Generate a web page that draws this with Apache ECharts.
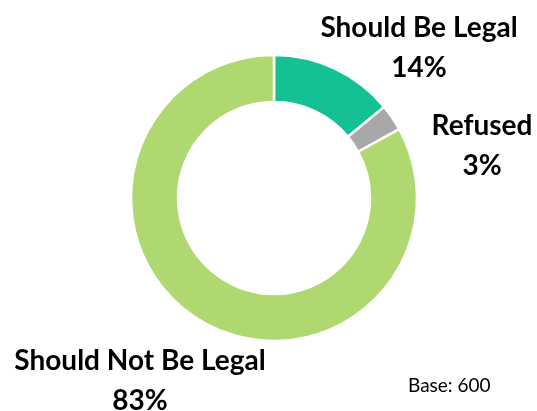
<!DOCTYPE html>
<html>
<head>
<meta charset="utf-8">
<script src="https://cdn.jsdelivr.net/npm/echarts@6/dist/echarts.min.js"></script>
<style>
  html, body { margin: 0; padding: 0; background: #fff; }
  #main { width: 537px; height: 411px; }
</style>
</head>
<body>
<div id="main"></div>
<script>
const categories = ['Should Be Legal', 'Refused', 'Should Not Be Legal']
const values = [14, 3, 83]
const colors = ['#14C194', '#A8A8A8', '#AFD870']
const baseNote = 'Base: 600'

// where each label block sits (centre of the two lines)
const labelPos = [[419, 48], [482, 146], [140, 381]]

var chartDom = document.getElementById('main');
var myChart = echarts.init(chartDom);
var option = {
  animation: false,
  title: {
    text: baseNote,
    left: 403,
    top: 371,
    textStyle: { fontFamily: 'Lato', fontWeight: 'normal', fontSize: 19, color: '#000' }
  },
  series: [
    {
      type: 'pie',
      center: [274, 198],
      radius: [96, 143],
      startAngle: 90,
      clockwise: true,
      data: categories.map(function (c, i) {
        return { name: c, value: values[i], itemStyle: { color: colors[i] } };
      }),
      itemStyle: { borderColor: '#fff', borderWidth: 2.5 },
      label: {
        show: true,
        position: 'inside',
        overflow: 'none',
        formatter: '{b}\n{c}%',
        fontFamily: 'Lato',
        fontWeight: 'bold',
        fontSize: 28,
        lineHeight: 40,
        color: '#000',
        align: 'center'
      },
      labelLine: { show: false },
      labelLayout: function (params) {
        var p = labelPos[params.dataIndex];
        return { x: p[0], y: p[1], align: 'center', verticalAlign: 'middle' };
      }
    }
  ]
};
myChart.setOption(option);
</script>
</body>
</html>
